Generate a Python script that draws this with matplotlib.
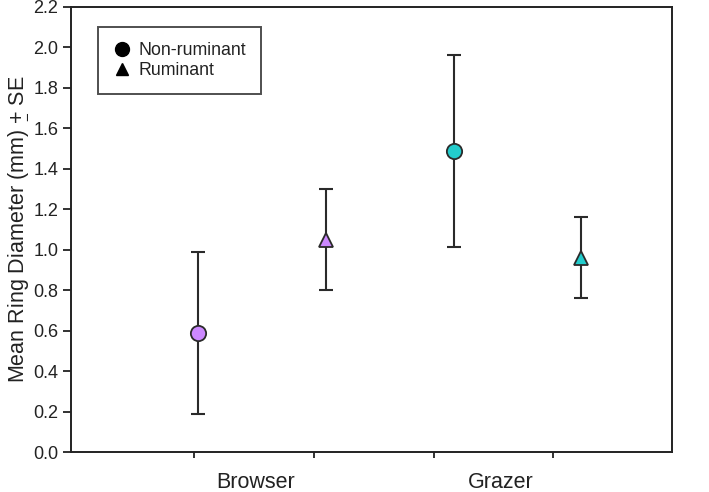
import matplotlib
matplotlib.use("Agg")
import matplotlib.pyplot as plt
from matplotlib.lines import Line2D

plt.rcParams['font.family'] = ['Liberation Sans', 'DejaVu Sans']
plt.rcParams['mathtext.fontset'] = 'custom'
plt.rcParams['mathtext.rm'] = 'Liberation Sans'
plt.rcParams['mathtext.it'] = 'Liberation Sans'

groups = ["Browser", "Grazer"]
series = ["Non-ruminant", "Ruminant"]
means = {"Non-ruminant": [0.59, 1.49], "Ruminant": [1.05, 0.96]}
se = {"Non-ruminant": [0.40, 0.475], "Ruminant": [0.25, 0.20]}
colors = ["#cc88ff", "#22cccc"]

# layout positions
xpos = {"Non-ruminant": [1.03, 3.17], "Ruminant": [2.10, 4.23]}
markers = {"Non-ruminant": "o", "Ruminant": "^"}
msize = {"Non-ruminant": 11, "Ruminant": 10}
group_label_x = [1.51, 3.56]

fig = plt.figure(figsize=(7.09, 4.92), dpi=100)
ax = fig.add_axes([0.1001, 0.0813, 0.8477, 0.9045])

ecol = "#2a2a2a"
for s in series:
    for i, g in enumerate(groups):
        ax.errorbar(xpos[s][i], means[s][i], yerr=se[s][i], fmt="none",
                    ecolor=ecol, elinewidth=1.5, capsize=5, capthick=1.5, zorder=2)
        ax.plot(xpos[s][i], means[s][i], marker=markers[s], markersize=msize[s],
                markerfacecolor=colors[i], markeredgecolor=ecol, markeredgewidth=1.3,
                linestyle="none", zorder=3)

ax.set_xlim(-0.03, 4.99)
ax.set_ylim(0, 2.2)
ax.set_xticks([1, 2, 3, 4])
ax.set_xticklabels([])
ax.set_yticks([i * 0.2 for i in range(12)])
ax.set_yticklabels([f"{i*0.2:.1f}" for i in range(12)], fontsize=13, color="#222222")
ax.tick_params(axis="y", direction="out", length=6, width=1.3, colors="#222222", pad=3)
ax.tick_params(axis="x", direction="out", length=4, width=1.3, colors="#222222")
for sp in ax.spines.values():
    sp.set_linewidth(1.4)
    sp.set_color("#222222")

for gx, g in zip(group_label_x, groups):
    ax.text(gx, -0.045, g, transform=ax.get_xaxis_transform(), ha="center", va="top",
            fontsize=15.5, color="#222222")

ax.set_ylabel(r"Mean Ring Diameter (mm) $\underset{-}{+}$ SE", fontsize=15.5,
              color="#222222", labelpad=4)

handles = [Line2D([], [], marker="o", color="black", linestyle="none", markersize=10),
           Line2D([], [], marker="^", color="black", linestyle="none", markersize=9)]
leg = ax.legend(handles, series, loc="upper left", bbox_to_anchor=(0.045, 0.955),
                fontsize=12.8, frameon=True, fancybox=False, edgecolor="#222222",
                handlelength=1.0, handletextpad=0.4, borderpad=0.85, labelspacing=0.15,
                borderaxespad=0)
leg.get_frame().set_linewidth(1.4)
for t in leg.get_texts():
    t.set_color("#222222")

fig.savefig("out.png", dpi=100)
